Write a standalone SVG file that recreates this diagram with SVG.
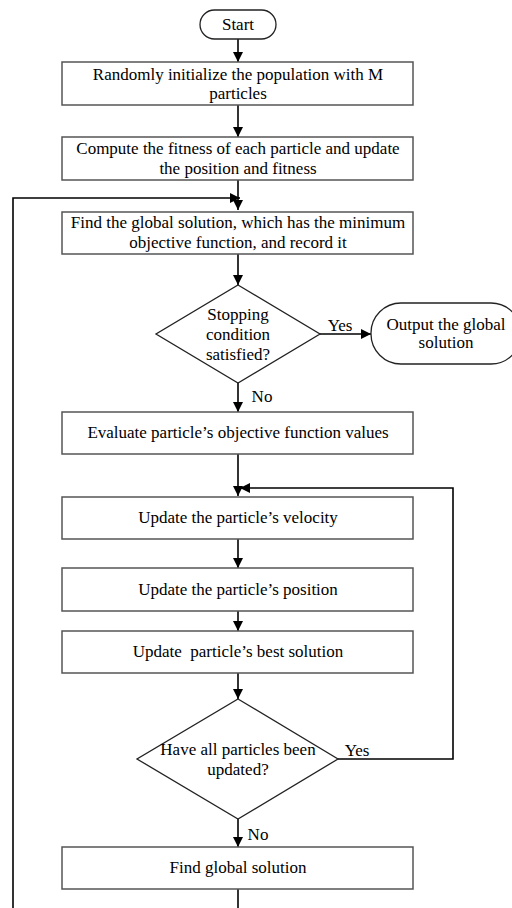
<svg xmlns="http://www.w3.org/2000/svg" width="512" height="908" viewBox="0 0 512 908">
<defs>
<marker id="ah" markerWidth="10" markerHeight="10" refX="10" refY="5" orient="auto" markerUnits="userSpaceOnUse">
<path d="M0,0 L10,5 L0,10 Z" fill="#000"/>
</marker>
<style>
.box{fill:#fff;stroke:#555;stroke-width:1.5}
.sh{fill:#fff;stroke:#222;stroke-width:1.3}
.t{font-family:"Liberation Serif","Times New Roman",serif;font-size:17px;fill:#000;text-anchor:middle}
.c{fill:none;stroke:#000;stroke-width:1.6}
.ca{fill:none;stroke:#000;stroke-width:1.6;marker-end:url(#ah)}
</style>
</defs>
<rect width="512" height="908" fill="#fff"/>
<g id="connectors">
<line class="ca" x1="238" y1="39" x2="238" y2="62"/>
<line class="ca" x1="238" y1="105" x2="238" y2="137"/>
<line class="ca" x1="238" y1="180" x2="238" y2="210"/>
<line class="ca" x1="238" y1="254" x2="238" y2="285"/>
<line class="ca" x1="320" y1="334" x2="371" y2="334"/>
<line class="ca" x1="238" y1="383" x2="238" y2="412"/>
<line class="ca" x1="238" y1="454" x2="238" y2="496"/>
<line class="ca" x1="238" y1="539" x2="238" y2="568"/>
<line class="ca" x1="238" y1="611" x2="238" y2="631"/>
<line class="ca" x1="238" y1="673" x2="238" y2="699"/>
<line class="ca" x1="238" y1="819" x2="238" y2="847"/>
<line class="c" x1="238" y1="889" x2="238" y2="908"/>
<polyline class="ca" points="338,759 453,759 453,488 240,488"/>
<polyline class="ca" points="13,908 13,198 240,198"/>
<text class="t" x="340" y="331">Yes</text>
<text class="t" x="262" y="402">No</text>
<text class="t" x="357" y="756">Yes</text>
<text class="t" x="258" y="840">No</text>
</g>
<g id="start">
<rect class="sh" x="200" y="10" width="76" height="29" rx="14.5"/>
<text class="t" x="238" y="30">Start</text>
</g>
<g id="init">
<rect class="box" x="62" y="62" width="351" height="43"/>
<text class="t" x="238" y="80">Randomly initialize the population with M</text>
<text class="t" x="238" y="99">particles</text>
</g>
<g id="fitness">
<rect class="box" x="62" y="137" width="351" height="43"/>
<text class="t" x="238" y="154">Compute the fitness of each particle and update</text>
<text class="t" x="238" y="174">the position and fitness</text>
</g>
<g id="findglobal">
<rect class="box" x="62" y="212" width="351" height="42"/>
<text class="t" x="238" y="228">Find the global solution, which has the minimum</text>
<text class="t" x="238" y="248">objective function, and record it</text>
</g>
<g id="stop">
<polygon class="sh" points="238,285 320,334 238,383 156,334"/>
<text class="t" x="238" y="320">Stopping</text>
<text class="t" x="238" y="340">condition</text>
<text class="t" x="238" y="360">satisfied?</text>
</g>
<g id="output">
<rect class="sh" x="371" y="303" width="150" height="61" rx="30"/>
<text class="t" x="446" y="330">Output the global</text>
<text class="t" x="446" y="348">solution</text>
</g>
<g id="evaluate">
<rect class="box" x="62" y="412" width="351" height="42"/>
<text class="t" x="238" y="438">Evaluate particle’s objective function values</text>
</g>
<g id="velocity">
<rect class="box" x="62" y="497" width="351" height="42"/>
<text class="t" x="238" y="523">Update the particle’s velocity</text>
</g>
<g id="position">
<rect class="box" x="62" y="568" width="351" height="43"/>
<text class="t" x="238" y="595">Update the particle’s position</text>
</g>
<g id="best">
<rect class="box" x="62" y="631" width="351" height="42"/>
<text class="t" x="238" y="657" style="white-space:pre">Update  particle’s best solution</text>
</g>
<g id="allupdated">
<polygon class="sh" points="238,699 338,759 238,819 137,759"/>
<text class="t" x="238" y="755">Have all particles been</text>
<text class="t" x="238" y="775">updated?</text>
</g>
<g id="findglobal2">
<rect class="box" x="62" y="847" width="351" height="42"/>
<text class="t" x="238" y="873">Find global solution</text>
</g>
</svg>
